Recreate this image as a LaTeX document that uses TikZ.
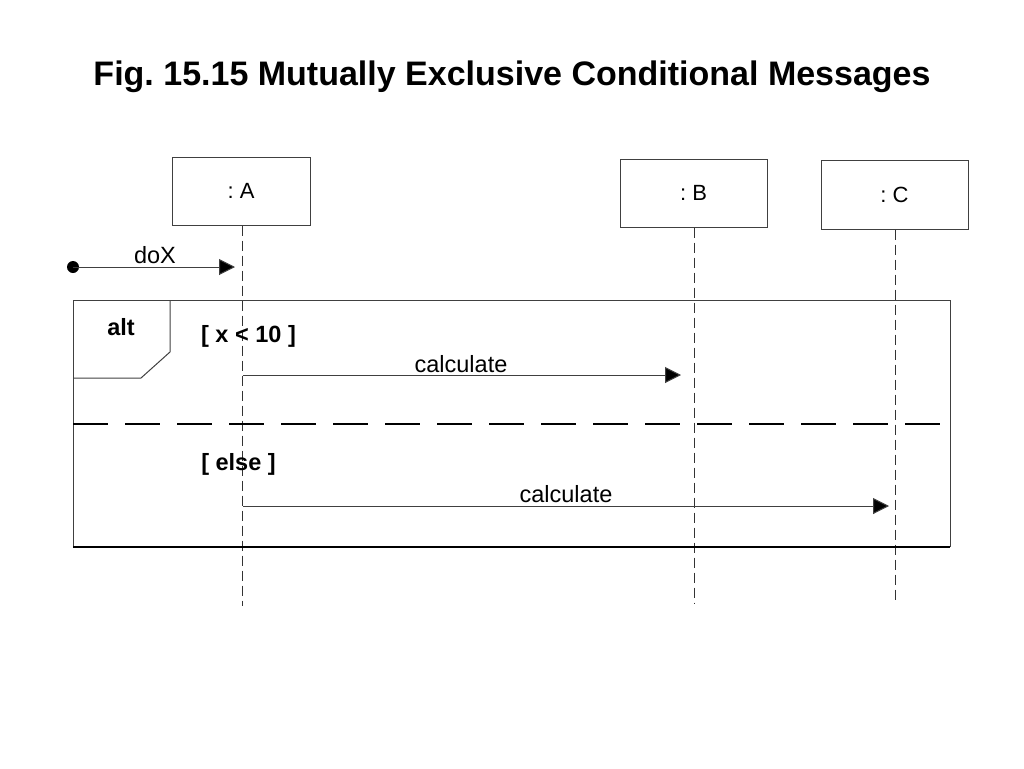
\documentclass[tikz,border=0pt]{standalone}
\usepackage{fontspec}
\setmainfont{Liberation Sans}
\usetikzlibrary{arrows.meta}
\frenchspacing

\begin{document}
\begin{tikzpicture}[x=1pt, y=-1pt,
	objbox/.style={draw=black!75, line width=1pt, inner sep=0pt, font=\fontsize{22}{26}\selectfont},
	lifeline/.style={draw=black!80, line width=1pt, dash pattern=on 10pt off 5pt},
	msg/.style={draw=black!75, line width=1pt, -{Triangle[length=16pt,width=16pt,fill=black]}},
	lbl/.style={anchor=base, font=\fontsize{23.5}{28}\selectfont},
	guard/.style={anchor=base, font=\bfseries\fontsize{23.5}{28}\selectfont}]
	%%%%% START %%%%%
	\useasboundingbox (0, 0) rectangle (1024, 768);
	
	\node[anchor=base, font=\bfseries\fontsize{34}{40}\selectfont] (title) at (512, 85) {Fig. 15.15 Mutually Exclusive Conditional Messages};
	
	% objects
	\node[objbox, minimum width=138pt, minimum height=68pt] (a) at (241, 191) {: A};
	\node[objbox, minimum width=147pt, minimum height=68pt] (b) at (693.5, 193) {: B};
	\node[objbox, minimum width=147pt, minimum height=69pt] (c) at (894.5, 194.5) {: C};
	
	\coordinate (a end) at (242, 606);
	\coordinate (b end) at (694, 603);
	\coordinate (c end) at (895, 603);
	\draw[lifeline] (a.south -| a end) -- (a end);
	\draw[lifeline] (b.south -| b end) -- (b end);
	\draw[lifeline] (c.south -| c end) -- (c end);
	
	% found message
	\node[circle, fill=black, inner sep=0pt, minimum size=12pt] (start) at (73, 267) {};
	\coordinate (dox tip) at (235, 267);
	\draw[msg] (start.center) -- (dox tip);
	\node[lbl] (dox) at (155, 263) {doX};
	
	% alt frame
	\draw[black!75, line width=1pt] (73, 547) -- (73, 300) -- (950, 300) -- (950, 547);
	\draw[line width=2pt] (73, 547) -- (950, 547);
	\draw[black!75, line width=1pt] (73, 378) -- (141, 378) -- (170, 352) -- (170, 300);
	\node[guard] (alt) at (121, 335) {alt};
	\draw[line width=2pt, dash pattern=on 35pt off 17pt] (73, 424) -- (950, 424);
	
	% first operand
	\node[guard] (guard one) at (248.5, 342) {[ x < 10 ]};
	\coordinate (m1 start) at (243, 375);
	\coordinate (m1 tip) at (681, 375);
	\draw[msg] (m1 start) -- (m1 tip);
	\node[lbl] (calc one) at (461, 372) {calculate};
	
	% second operand
	\node[guard] (guard two) at (238.5, 470) {[ else ]};
	\coordinate (m2 start) at (243, 506);
	\coordinate (m2 tip) at (889, 506);
	\draw[msg] (m2 start) -- (m2 tip);
	\node[lbl] (calc two) at (566, 502) {calculate};
	
	%%%%% END %%%%%
\end{tikzpicture}
\end{document}
